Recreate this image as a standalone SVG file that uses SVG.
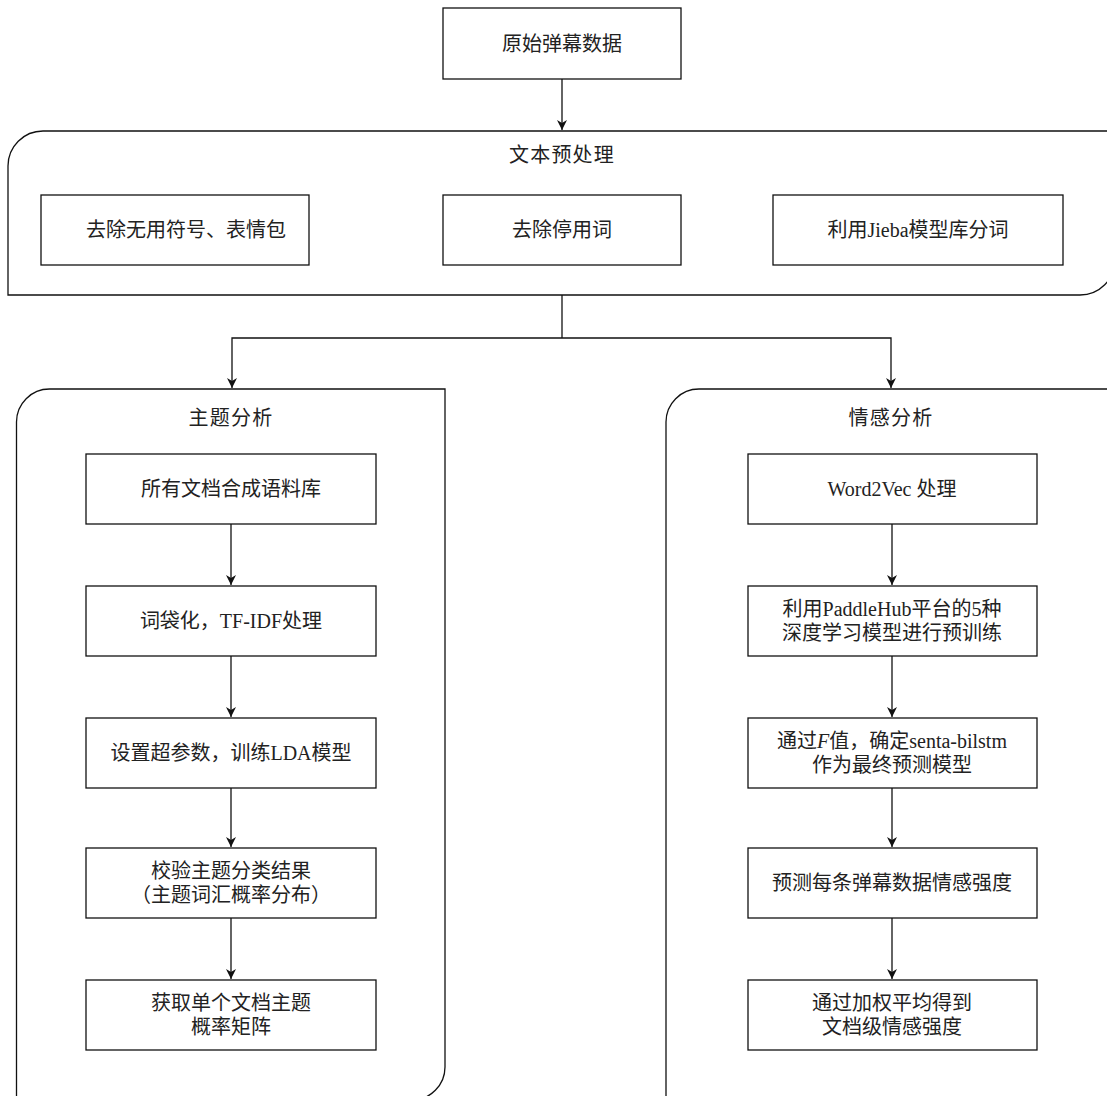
<svg xmlns="http://www.w3.org/2000/svg" width="1107" height="1096" viewBox="0 0 1107 1096">
<style>
.box{fill:#fff;stroke:#111;stroke-width:1.3}
.cont{fill:#fff;stroke:#111;stroke-width:1.3}
.t{font-family:"Liberation Serif","Noto Sans CJK SC",serif;font-size:20px;fill:#222;text-anchor:middle;dominant-baseline:central}
.h{letter-spacing:1.2px}
.c{fill:none;stroke:#111;stroke-width:1.3}
</style>
<defs>
<marker id="arr" markerUnits="userSpaceOnUse" markerWidth="10" markerHeight="10" refX="10" refY="5" orient="auto">
<path d="M0,0 L10,5 L0,10 L3,5 Z" fill="#111"/>
</marker>
</defs>
<rect width="1107" height="1096" fill="#fff"/>

<g id="top-container">
<path class="cont" d="M43,131 H1115 V260 A35,35 0 0 1 1080,295 H8 V166 A35,35 0 0 1 43,131 Z"/>
<text class="t h" x="562" y="155">文本预处理</text>
</g>
<g id="left-container">
<path class="cont" d="M49.5,389 H445 V1067 A33,33 0 0 1 412,1100 H16.5 V422 A33,33 0 0 1 49.5,389 Z"/>
<text class="t h" x="231" y="418">主题分析</text>
</g>
<g id="right-container">
<path class="cont" d="M699,389 H1120 V1100 H666 V422 A33,33 0 0 1 699,389 Z"/>
<text class="t h" x="891" y="418">情感分析</text>
</g>

<g id="n-raw"><rect class="box" x="443" y="8" width="238" height="71"/><text class="t" x="562" y="44">原始弹幕数据</text></g>
<g id="n-symbols"><rect class="box" x="41" y="195" width="268" height="70"/><text class="t" x="186" y="230">去除无用符号、表情包</text></g>
<g id="n-stopwords"><rect class="box" x="443" y="195" width="238" height="70"/><text class="t" x="562" y="230">去除停用词</text></g>
<g id="n-jieba"><rect class="box" x="773" y="195" width="290" height="70"/><text class="t" x="918" y="230">利用Jieba模型库分词</text></g>

<g id="n-corpus"><rect class="box" x="86" y="454" width="290" height="70"/><text class="t" x="231" y="489">所有文档合成语料库</text></g>
<g id="n-bow"><rect class="box" x="86" y="586" width="290" height="70"/><text class="t" x="231" y="621">词袋化，TF-IDF处理</text></g>
<g id="n-lda"><rect class="box" x="86" y="718" width="290" height="70"/><text class="t" x="231" y="753">设置超参数，训练LDA模型</text></g>
<g id="n-verify"><rect class="box" x="86" y="848" width="290" height="70"/><text class="t" x="231" y="871">校验主题分类结果</text><text class="t" x="231" y="895">（主题词汇概率分布）</text></g>
<g id="n-matrix"><rect class="box" x="86" y="980" width="290" height="70"/><text class="t" x="231" y="1003">获取单个文档主题</text><text class="t" x="231" y="1027">概率矩阵</text></g>

<g id="n-w2v"><rect class="box" x="748" y="454" width="289" height="70"/><text class="t" x="892" y="489">Word2Vec 处理</text></g>
<g id="n-paddle"><rect class="box" x="748" y="586" width="289" height="70"/><text class="t" x="892" y="609">利用PaddleHub平台的5种</text><text class="t" x="892" y="633">深度学习模型进行预训练</text></g>
<g id="n-fvalue"><rect class="box" x="748" y="718" width="289" height="70"/><text class="t" x="892" y="741">通过<tspan font-style="italic">F</tspan>值，确定senta-bilstm</text><text class="t" x="892" y="765">作为最终预测模型</text></g>
<g id="n-predict"><rect class="box" x="748" y="848" width="289" height="70"/><text class="t" x="892" y="883">预测每条弹幕数据情感强度</text></g>
<g id="n-weighted"><rect class="box" x="748" y="980" width="289" height="70"/><text class="t" x="892" y="1003">通过加权平均得到</text><text class="t" x="892" y="1027">文档级情感强度</text></g>

<g id="connectors">
<line class="c" x1="562" y1="79" x2="562" y2="130" marker-end="url(#arr)"/>
<polyline class="c" points="562,295 562,338"/>
<polyline class="c" points="562,338 232,338 232,388" marker-end="url(#arr)"/>
<polyline class="c" points="562,338 891,338 891,388" marker-end="url(#arr)"/>
<line class="c" x1="231" y1="524" x2="231" y2="585" marker-end="url(#arr)"/>
<line class="c" x1="231" y1="656" x2="231" y2="717" marker-end="url(#arr)"/>
<line class="c" x1="231" y1="788" x2="231" y2="847" marker-end="url(#arr)"/>
<line class="c" x1="231" y1="918" x2="231" y2="979" marker-end="url(#arr)"/>
<line class="c" x1="892" y1="524" x2="892" y2="585" marker-end="url(#arr)"/>
<line class="c" x1="892" y1="656" x2="892" y2="717" marker-end="url(#arr)"/>
<line class="c" x1="892" y1="788" x2="892" y2="847" marker-end="url(#arr)"/>
<line class="c" x1="892" y1="918" x2="892" y2="979" marker-end="url(#arr)"/>
</g>
</svg>
